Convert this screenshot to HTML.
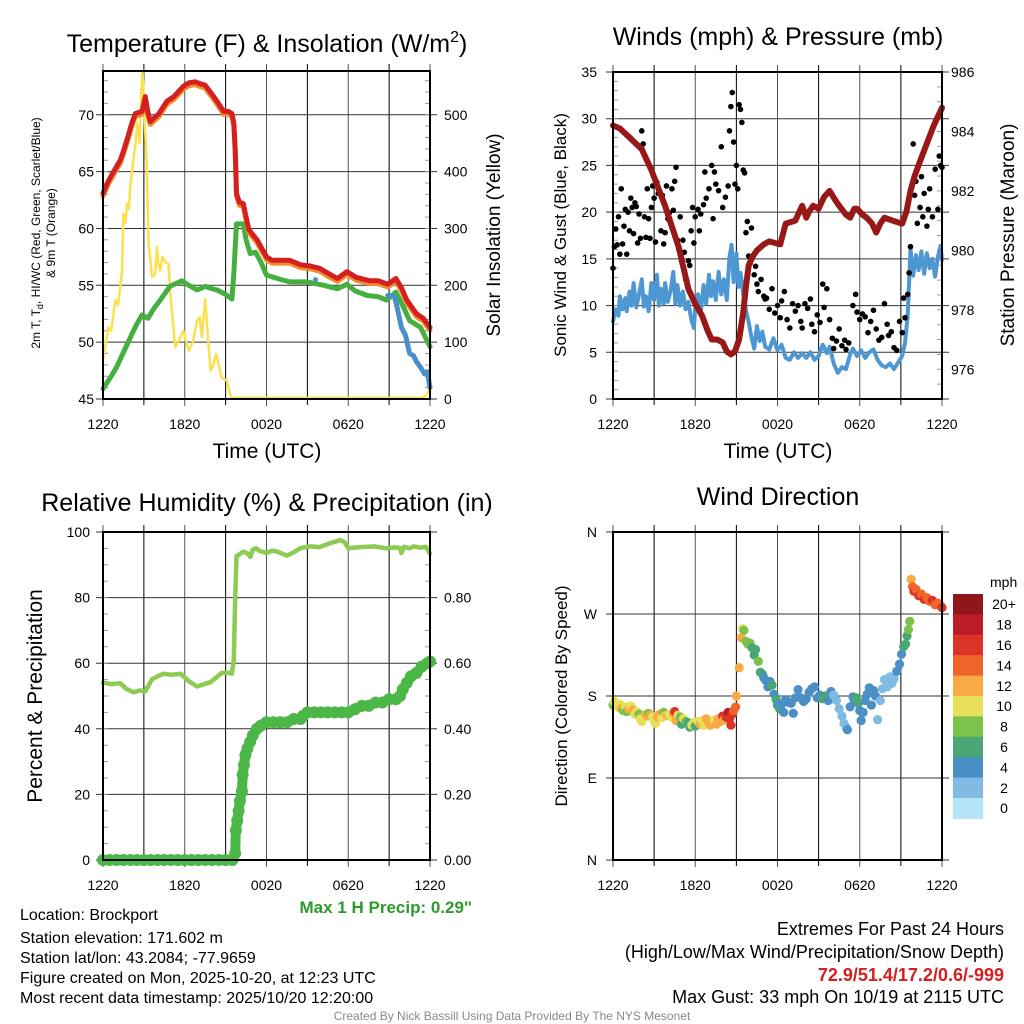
<!DOCTYPE html>
<html><head><meta charset="utf-8">
<style>
html,body{margin:0;padding:0;background:#fff;}
svg{display:block;font-family:"Liberation Sans",Arial,sans-serif;}
</style></head>
<body>
<svg id="chart" width="1024" height="1024" viewBox="0 0 1024 1024" xmlns="http://www.w3.org/2000/svg">
<rect width="1024" height="1024" fill="#fff"/>
<g id="layer"></g>
<!-- titles -->
<text x="267" y="52" font-size="25" text-anchor="middle">Temperature (F) &amp; Insolation (W/m<tspan font-size="16" dy="-10">2</tspan><tspan dy="10">)</tspan></text>
<text x="778" y="45" font-size="25" text-anchor="middle">Winds (mph) &amp; Pressure (mb)</text>
<text x="267" y="511" font-size="25" text-anchor="middle">Relative Humidity (%) &amp; Precipitation (in)</text>
<text x="778" y="505" font-size="25" text-anchor="middle">Wind Direction</text>
<!-- x axis titles -->
<text x="267" y="458" font-size="21" text-anchor="middle">Time (UTC)</text>
<text x="778" y="458" font-size="21" text-anchor="middle">Time (UTC)</text>
<!-- y axis titles -->
<text transform="translate(40,233) rotate(-90)" font-size="12" text-anchor="middle">2m T, T<tspan font-size="9" dy="3">d</tspan><tspan dy="-3">, HI/WC (Red, Green, Scarlet/Blue)</tspan></text>
<text transform="translate(55,233) rotate(-90)" font-size="12" text-anchor="middle">&amp; 9m T (Orange)</text>
<text transform="translate(500,235) rotate(-90)" font-size="19" text-anchor="middle">Solar Insolation (Yellow)</text>
<text transform="translate(566,235) rotate(-90)" font-size="17" text-anchor="middle">Sonic Wind &amp; Gust (Blue, Black)</text>
<text transform="translate(1014,235) rotate(-90)" font-size="19" text-anchor="middle">Station Pressure (Maroon)</text>
<text transform="translate(42,696) rotate(-90)" font-size="21" text-anchor="middle">Percent &amp; Precipitation</text>
<text transform="translate(567,696) rotate(-90)" font-size="17" text-anchor="middle">Direction (Colored By Speed)</text>
<!-- bottom text -->
<text x="472" y="913" font-size="17" font-weight="bold" fill="#2e9a2e" text-anchor="end">Max 1 H Precip: 0.29"</text>
<g font-size="16">
<text x="20" y="920">Location: Brockport</text>
<text x="20" y="943">Station elevation: 171.602 m</text>
<text x="20" y="963">Station lat/lon: 43.2084; -77.9659</text>
<text x="20" y="983">Figure created on Mon, 2025-10-20, at 12:23 UTC</text>
<text x="20" y="1003">Most recent data timestamp: 2025/10/20 12:20:00</text>
</g>
<g font-size="18" text-anchor="end">
<text x="1004" y="935">Extremes For Past 24 Hours</text>
<text x="1004" y="958">(High/Low/Max Wind/Precipitation/Snow Depth)</text>
<text x="1004" y="981" fill="#d02020" font-weight="bold">72.9/51.4/17.2/0.6/-999</text>
<text x="1004" y="1003">Max Gust: 33 mph On 10/19 at 2115 UTC</text>
</g>
<text x="512" y="1020" font-size="12" fill="#888" text-anchor="middle">Created By Nick Bassill Using Data Provided By The NYS Mesonet</text>
</svg>
<script>
// ---------- DATA ----------
const xTickLabels = ["1220","1820","0020","0620","1220"];
const tempTicks = [45,50,55,60,65,70];
const solarTicks = [0,100,200,300,400,500];
const windTicks = [0,5,10,15,20,25,30,35];
const presTicks = [976,978,980,982,984,986];
const rhTicks = [0,20,40,60,80,100];
const precipTicks = ["0.00","0.20","0.40","0.60","0.80"];
const dirLabels = ["N","E","S","W","N"];
const speedBins = ["0","2","4","6","8","10","12","14","16","18","20+"];
const speedColors = ["#b5e3f7","#7fbbe3","#4a90c6","#48a775","#7cc14a","#e6e158","#f7aa45","#f0652a","#dd3428","#bb1c25","#8f171b"];

const tempRed = [[0,63.1],[0.4,64.2],[0.78,65],[1.27,66],[1.5,66.8],[1.76,67.8],[2.1,69.2],[2.37,70.1],[2.86,70.3],[3.1,71.6],[3.3,70.2],[3.47,69.4],[4.1,70.1],[4.7,71.2],[5.2,71.6],[5.9,72.5],[6.3,72.8],[6.77,72.9],[7.2,72.7],[7.5,72.6],[8.0,71.8],[8.36,71.2],[8.85,70.3],[9.2,70.3],[9.46,70.1],[9.6,69.3],[9.7,67],[9.8,63.1],[10.0,62.3],[10.3,62.2],[10.5,61],[10.7,59.9],[11.3,59],[12.0,57.5],[12.4,57.2],[12.75,57.2],[13.7,57.2],[14.5,56.8],[15.2,56.7],[15.9,56.5],[16.6,56],[17.2,55.6],[17.9,56.2],[18.6,55.7],[19.6,55.4],[20.2,55.4],[20.9,55.1],[21.5,55.6],[21.9,54.8],[22.3,53.7],[23.0,52.5],[23.5,52.1],[24,51.3]];
const tempOrange = tempRed.map(p=>[p[0],p[1]-0.25]);
const dewGreen = [[0,45.9],[0.5,46.8],[1,47.8],[1.5,49.1],[2,50.4],[2.4,51.4],[2.86,52.4],[3.3,52.1],[3.7,52.9],[4.2,53.7],[4.9,54.9],[5.8,55.4],[6.3,55],[6.9,54.6],[7.5,54.9],[8.0,54.7],[8.36,54.6],[9.0,54.2],[9.46,53.8],[9.6,56],[9.8,60.4],[10.3,60.4],[10.5,59],[10.8,57.8],[11.2,57.9],[11.6,57],[12,55.9],[12.8,55.6],[13.7,55.3],[15,55.3],[16.2,55],[17.2,54.7],[17.9,55.1],[18.5,54.5],[19.4,54.1],[20.2,54],[20.8,53.7],[21.5,54.4],[22.0,53.2],[22.5,51.9],[23.3,51.3],[24,49.6]];
const hiwcBlue = [[20.9,54.1],[21.4,54],[21.6,53],[21.9,51.3],[22.2,50.6],[22.5,49],[22.8,48.8],[23.0,48.3],[23.3,47.8],[23.6,47.2],[23.8,47.4],[24,46]];
const solar = [[0,68],[0.4,126],[0.6,120],[0.9,174],[1.1,165],[1.4,226],[1.5,326],[1.65,310],[1.76,344],[1.9,335],[2.0,374],[2.25,426],[2.4,450],[2.5,485],[2.7,450],[2.8,538],[2.9,576],[3.0,526],[3.1,470],[3.2,420],[3.35,274],[3.6,215],[3.84,220],[3.96,268],[4.05,240],[4.2,226],[4.35,250],[4.45,247],[4.6,240],[4.8,238],[5.0,170],[5.3,91],[5.5,100],[5.9,120],[6.1,100],[6.3,85],[6.6,100],[6.9,138],[7.1,144],[7.25,109],[7.5,176],[7.7,110],[7.9,50],[8.1,60],[8.3,79],[8.5,60],[8.7,38],[9.1,32],[9.3,10],[9.46,2],[23.3,2],[23.7,6],[24,18]];

const pressure = [[0,984.2],[0.5,984.1],[1.2,983.8],[2.1,983.4],[2.8,982.7],[3.3,982.1],[3.8,981.5],[4.3,980.8],[4.8,980.1],[5.5,978.7],[6.0,978.2],[6.5,977.8],[6.9,977.3],[7.2,977],[7.6,977],[8.0,976.9],[8.3,976.6],[8.6,976.5],[8.9,976.6],[9.2,977],[9.5,977.9],[9.7,978.8],[9.9,979.5],[10.2,979.8],[10.5,980],[11.0,980.2],[11.4,980.3],[12.2,980.2],[12.6,980.9],[13.3,981],[13.8,981.5],[14.1,981.1],[14.3,981.3],[14.6,981.5],[15.0,981.4],[15.4,981.8],[15.8,982],[16.2,981.7],[16.5,981.5],[17.0,981.2],[17.3,981.1],[17.6,981.4],[17.8,981.4],[18.2,981.2],[18.5,981.1],[18.9,980.9],[19.2,980.6],[19.5,980.9],[19.8,981.1],[20.4,981],[21.1,980.9],[21.4,981.3],[21.7,982],[22.0,982.5],[22.4,983],[22.9,983.6],[23.4,984.2],[24,984.8]];
const sonic = [[0,8.3],[0.2,9.6],[0.4,8.9],[0.5,11],[0.7,9.6],[0.9,10.8],[1.0,9.4],[1.2,11.5],[1.35,10],[1.5,12.4],[1.7,9.8],[1.9,11.2],[2.1,12.8],[2.25,9.9],[2.4,11],[2.6,9.4],[2.8,12.4],[3.0,10.6],[3.2,13.3],[3.35,10],[3.5,11.8],[3.7,10.2],[3.8,12.4],[4.0,10.4],[4.2,11.6],[4.4,13.6],[4.55,10.2],[4.7,12.2],[4.9,10],[5.1,11.5],[5.3,9.6],[5.5,10.4],[5.7,8.6],[5.9,7.6],[6.05,10.8],[6.2,11.2],[6.4,9.2],[6.6,12.2],[6.8,10.2],[7.0,13.3],[7.15,11],[7.3,12.6],[7.5,10.6],[7.7,13.6],[7.9,11.2],[8.1,12.8],[8.3,10.6],[8.5,15.2],[8.65,16.5],[8.8,12.5],[9.0,15.6],[9.15,12],[9.3,13.5],[9.5,11.2],[9.7,9.5],[9.9,8.2],[10.1,6.6],[10.3,5.4],[10.5,7.8],[10.7,6.2],[10.9,7.2],[11.1,5.6],[11.4,5.3],[11.7,6.5],[12.0,5.2],[12.3,5.8],[12.6,4.4],[12.9,4.2],[13.2,5],[13.5,4.4],[13.8,4.9],[14.1,4.4],[14.4,5],[14.7,4.2],[15.0,4.6],[15.3,5.8],[15.6,4.9],[15.8,5.6],[16.1,3.8],[16.4,2.8],[16.7,3.4],[17.0,3.2],[17.3,4.8],[17.5,5.4],[17.8,4.6],[18.1,5.2],[18.4,4.4],[18.7,5],[19.0,5.3],[19.3,4.2],[19.6,3.6],[19.9,3.4],[20.2,3.8],[20.5,3.2],[20.8,3.9],[21.1,4.6],[21.3,6],[21.5,9],[21.7,16],[21.9,13.2],[22.1,15.4],[22.3,13.8],[22.5,15.8],[22.7,13.4],[22.9,15.6],[23.1,14],[23.3,15],[23.5,13.1],[23.7,15.2],[23.9,16.4],[24,14.9]];
const gust = [[0,14],[0.1,16.3],[0.2,18.2],[0.3,16.5],[0.4,19.5],[0.5,15.5],[0.6,22.5],[0.7,16.6],[0.8,18.5],[0.9,20.3],[1.0,15.5],[1.1,20],[1.2,18],[1.3,21.5],[1.4,20.5],[1.5,17.7],[1.6,21],[1.7,20.6],[1.8,16.7],[1.9,19.8],[2.0,17.2],[2.1,28.7],[2.2,27.3],[2.3,19.5],[2.4,17.3],[2.5,22.5],[2.6,19.3],[2.7,17.2],[2.8,20.5],[2.9,22.8],[3.0,21.5],[3.1,16.8],[3.2,23.2],[3.3,22],[3.5,18],[3.6,21.8],[3.7,16.6],[3.8,17.8],[3.9,22.8],[4.0,19.3],[4.1,19.9],[4.3,22.5],[4.4,20.2],[4.5,23.3],[4.6,24.8],[4.7,17],[4.8,16],[4.9,19.5],[5.0,14.8],[5.1,17],[5.2,15.7],[5.3,12.8],[5.5,14.8],[5.6,14.3],[5.7,18],[5.8,20.5],[5.9,16.7],[6.0,19.5],[6.2,20.3],[6.3,18],[6.4,19.8],[6.6,20.8],[6.7,24.3],[6.8,21.5],[7.0,22.5],[7.2,25],[7.3,19.3],[7.4,24.3],[7.5,23],[7.7,22.3],[7.9,27],[8.0,20.5],[8.2,21.6],[8.4,22.8],[8.5,28.7],[8.6,31.3],[8.7,32.8],[8.8,27.5],[8.9,23],[9.0,25],[9.1,22.5],[9.2,31.5],[9.3,31],[9.4,29.6],[9.5,24.5],[9.6,24.2],[9.7,17.8],[9.8,19],[9.9,15.3],[10.0,14.5],[10.1,18.3],[10.3,13.3],[10.4,14.2],[10.5,12.3],[10.6,11.5],[10.8,12.8],[11.0,11],[11.1,10.7],[11.2,10.8],[11.4,9.6],[11.6,11.8],[11.8,9.2],[12.0,10],[12.2,8.7],[12.3,10.5],[12.5,11.5],[12.7,8.5],[12.9,7.6],[13.1,10.2],[13.3,9.4],[13.5,10],[13.7,8.3],[13.8,7.6],[14.0,10.2],[14.2,9.7],[14.4,10.7],[14.5,8],[14.7,7.2],[14.9,9],[15.1,8.2],[15.3,12.3],[15.4,9.8],[15.6,11.8],[15.8,8.5],[16.0,6.5],[16.1,5.4],[16.3,6.2],[16.5,7.5],[16.7,5.7],[16.9,6.3],[17.0,5.3],[17.2,6],[17.5,10],[17.7,11.2],[17.8,9.3],[18.0,8.5],[18.2,9.1],[18.4,8.8],[18.6,7.1],[18.8,8.3],[19.0,9.5],[19.2,7.5],[19.4,6.3],[19.6,6.6],[19.8,10.2],[20.0,8],[20.1,6.8],[20.3,7.2],[20.5,5.5],[20.7,5.2],[20.9,8.3],[21.1,7.1],[21.2,10.8],[21.3,8.7],[21.5,11.2],[21.6,13.5],[21.7,16.3],[21.8,22.7],[21.9,27.3],[22.0,21.8],[22.1,23.3],[22.2,18.8],[22.4,20.5],[22.5,23.8],[22.6,19.5],[22.7,22],[22.9,18.5],[23.0,20.3],[23.1,22.5],[23.3,19.5],[23.5,24.6],[23.7,20.3],[23.8,26],[23.9,25],[24.0,24.8]];

const rh = [[0,54.1],[0.6,53.6],[1.27,53.9],[1.7,52.2],[2.25,51.1],[2.7,51.7],[3.1,51.4],[3.6,55.1],[4.0,56],[4.45,56.8],[5.0,56.5],[5.7,56.8],[6.3,54.5],[6.9,52.9],[7.4,53.6],[7.9,54.2],[8.3,55.6],[8.7,57],[9.2,57.1],[9.45,56.8],[9.6,61],[9.7,80],[9.8,92.6],[10.3,94],[10.6,93.5],[10.8,92.4],[11.0,94.6],[11.2,95.1],[11.5,94.2],[12,93.6],[12.4,94.3],[12.75,94.1],[13.5,92.8],[14.0,93.8],[14.5,95.1],[15.2,95.6],[15.9,95.4],[16.6,96.5],[17.4,97.5],[17.7,97],[18,95.1],[18.9,95.4],[19.9,95.6],[20.8,95],[21.5,95.3],[21.8,95.1],[21.9,93.6],[22.1,95.5],[22.5,95],[22.8,95.6],[23.3,95.2],[23.7,95.5],[24,93.4]];
const precip = [[0,0],[0.5,0],[1,0],[1.5,0],[2,0],[2.5,0],[3,0],[3.5,0],[4,0],[4.5,0],[5,0],[5.5,0],[6,0],[6.5,0],[7,0],[7.5,0],[8,0],[8.5,0],[9,0],[9.5,0],[9.7,0.02],[9.75,0.09],[9.85,0.12],[9.95,0.15],[10.05,0.18],[10.2,0.21],[10.25,0.26],[10.35,0.29],[10.45,0.32],[10.6,0.34],[10.8,0.36],[11.0,0.38],[11.3,0.40],[11.6,0.41],[12.0,0.42],[12.5,0.42],[13.0,0.42],[13.5,0.42],[14.0,0.43],[14.5,0.43],[14.7,0.44],[15.0,0.45],[15.5,0.45],[16,0.45],[16.5,0.45],[17,0.45],[17.5,0.45],[18,0.45],[18.5,0.46],[19,0.47],[19.5,0.47],[20,0.48],[20.5,0.48],[21,0.49],[21.5,0.49],[21.8,0.5],[22.0,0.52],[22.3,0.54],[22.6,0.56],[23.0,0.57],[23.4,0.59],[23.8,0.60],[24,0.605]];

const wdHour = [0,0.1,0.2,0.35,0.5,0.6,0.75,0.9,1.0,1.15,1.3,1.45,1.6,1.75,1.9,2.0,2.1,2.25,2.4,2.5,2.6,2.75,2.9,3.0,3.1,3.25,3.4,3.55,3.7,3.8,3.95,4.1,4.25,4.4,4.5,4.6,4.75,4.9,5.0,5.15,5.3,5.45,5.6,5.75,5.9,6.0,6.2,6.35,6.5,6.65,6.8,6.95,7.1,7.25,7.4,7.55,7.7,7.85,8.0,8.1,8.25,8.4,8.5,8.6,8.7,8.8,8.95,9.0,9.2,9.35,9.45,9.55,9.7,9.85,10.0,10.15,10.3,10.4,10.6,10.75,10.9,11.0,11.15,11.3,11.45,11.6,11.75,11.9,12.0,12.15,12.3,12.45,12.6,12.8,13.0,13.15,13.3,13.5,13.7,13.9,14.1,14.3,14.5,14.7,14.9,15.1,15.3,15.5,15.7,15.9,16.1,16.3,16.5,16.7,16.85,17.0,17.1,17.3,17.5,17.6,17.75,17.9,18.0,18.1,18.25,18.4,18.55,18.7,18.85,19.0,19.15,19.3,19.5,19.65,19.8,20.0,20.2,20.35,20.5,20.7,20.9,21.05,21.2,21.35,21.45,21.55,21.65,21.75,21.85,21.95,22.1,22.3,22.5,22.7,22.9,23.1,23.3,23.5,23.7,23.9,24];
const wdDir = [170,174,172,168,171,166,164,168,163,166,169,165,160,163,160,155,152,157,160,158,161,159,157,153,150,157,160,156,162,158,159,160,157,161,163,153,159,157,149,155,152,151,146,148,151,147,152,149,153,148,155,152,148,150,154,149,155,152,158,154,157,162,155,148,160,164,168,180,211,244,254,252,240,237,238,233,225,231,218,206,204,200,197,190,196,192,182,176,170,166,171,162,176,173,172,161,178,187,178,174,177,184,188,190,178,181,177,180,175,185,181,175,166,158,150,146,143,168,179,173,178,172,164,153,162,175,182,189,170,186,180,154,175,188,198,190,201,194,199,207,215,226,234,237,246,253,262,308,300,295,297,290,292,286,288,284,285,280,282,279,277];
const wdSpeed = [8,10,10,11,10,12,9,10,8,12,11,12,10,10,9,10,10,11,12,12,8,12,10,10,10,12,12,10,8,10,12,11,10,12,16,12,10,8,7,10,8,7,6,10,10,7,10,12,11,10,13,12,12,12,10,12,13,12,16,13,16,18,17,17,17,15,14,13,13,12,10,8,8,9,8,7,6,7,8,7,6,5,5,5,5,7,5,6,5,7,5,5,5,4,5,5,5,5,5,5,5,5,5,5,5,5,6,7,5,4,3,3,3,3,3,3,4,4,5,5,7,6,5,5,5,5,4,4,5,4,4,3,3,3,3,3,3,3,3,4,4,5,6,6,7,8,9,12,15,17,14,16,15,16,14,15,16,14,15,14,16,16];

// ---------- DRAWING ----------
const NS="http://www.w3.org/2000/svg";
const layer=document.getElementById('layer');
function el(tag,attrs,parent){const e=document.createElementNS(NS,tag);for(const k in attrs)e.setAttribute(k,attrs[k]);(parent||layer).appendChild(e);return e;}
function txt(s,attrs,parent){const e=el('text',attrs,parent);e.textContent=s;return e;}

const P1={x0:103,x1:430,y0:71,y1:399}, P2={x0:613,x1:942,y0:72,y1:399}, P3={x0:103,x1:430,y0:532,y1:860}, P4={x0:613,x1:942,y0:532,y1:860};
function xs(p){return h=>p.x0+h/24*(p.x1-p.x0);}
function ys(p,lo,hi){return v=>p.y1-(v-lo)/(hi-lo)*(p.y1-p.y0);}

function grid(p,yvals,ysc,g){
  for(let h=0;h<=24;h+=3){const x=xs(p)(h);
    const l=el('line',{x1:x,x2:x,y1:p.y0-7,y2:p.y1+(h%6==0?7:6),stroke:h%6==0?'#555':'#000','stroke-width':1},g);
    
    }
  yvals.forEach(v=>{const y=ysc(v);
    const l=el('line',{x1:p.x0-7,x2:p.x1+7,y1:y,y2:y,stroke:'#333','stroke-width':1},g);
    
    });
}
function frame(p,g){const r=el('rect',{x:p.x0,y:p.y0,width:p.x1-p.x0,height:p.y1-p.y0,fill:'none',stroke:'#000','stroke-width':2},g);
  
  }
function minor(p,side,ysc,lo,hi,step,g){for(let v=lo;v<=hi+1e-9;v+=step){const y=ysc(v);if(y<p.y0-0.5||y>p.y1+0.5)continue;
  const x=side=='L'?p.x0:p.x1; const d=side=='L'?5:-5;
  el('line',{x1:x,x2:x+d,y1:y,y2:y,stroke:'#999','stroke-width':1},g);}}
function xlabels(p,yy,g){xTickLabels.forEach((s,i)=>{const t=txt(s,{x:xs(p)(i*6),y:yy,'font-size':14,'text-anchor':'middle'},g);
  
  });}
function ylabels(vals,ysc,x,anchor,g,fmt){vals.forEach(v=>{const t=txt(fmt?fmt(v):String(v),{x:x,y:ysc(+v)+5,'font-size':14,'text-anchor':anchor},g);
  
  });}
function line(p,data,ysc,color,w,g,name){const X=xs(p);
  const pl=el('polyline',{points:data.map(d=>X(d[0]).toFixed(1)+','+ysc(d[1]).toFixed(1)).join(' '),fill:'none',stroke:color,'stroke-width':w,'stroke-linejoin':'round','stroke-linecap':'round'},g);
  
  return pl;}

// Panel 1
{const g=el('g',{});
 const yT=ys(P1,45,73.85), yS=v=>yT(45+v/100*5);
 grid(P1,tempTicks,yT,g);
 minor(P1,'L',yT,45,73,1,g); minor(P1,'R',yS,0,560,20,g);
 line(P1,solar,yS,'#fbe04f',2.5,g,'solar-insolation-line');
 line(P1,dewGreen,yT,'#45b03f',5,g,'dewpoint-line');
 line(P1,tempOrange,yT,'#f28c2c',5,g,'temperature-9m-line');
 line(P1,tempRed,yT,'#d42020',5,g,'temperature-2m-line');
 line(P1,hiwcBlue,yT,'#4a8fc9',5,g,'heat-index-wind-chill-line');
 const bd=el('circle',{cx:xs(P1)(15.6),cy:yT(55.5),r:2.5,fill:'#4a8fc9'},g);
 
 
 frame(P1,g);
 xlabels(P1,429,g); ylabels(tempTicks,yT,94,'end',g); ylabels(solarTicks,yS,444,'start',g);}

// Panel 2
{const g=el('g',{});
 const yW=ys(P2,0,35), yP=ys(P2,975,986);
 grid(P2,windTicks,yW,g);
 minor(P2,'L',yW,0,35,1,g); minor(P2,'R',yP,975,986,0.5,g);
 line(P2,sonic,yW,'#4d97d3',4,g,'sonic-wind-line');
 const X=xs(P2);
 gust.forEach(d=>{const c=el('circle',{cx:X(d[0]),cy:yW(d[1]),r:2.8,fill:'#000'},g);
   
   });
 line(P2,pressure,yP,'#981818',6,g,'pressure-line');
 frame(P2,g);
 xlabels(P2,429,g); ylabels(windTicks,yW,597,'end',g); ylabels(presTicks,yP,951,'start',g);}

// Panel 3
{const g=el('g',{});
 const yR=ys(P3,0,100), yQ=v=>yR(v*100);
 grid(P3,rhTicks,yR,g);
 minor(P3,'L',yR,0,100,5,g); minor(P3,'R',yQ,0,1,0.05,g);
 line(P3,rh,yR,'#8dcb52',4.5,g,'relative-humidity-line');
 const X=xs(P3);
 line(P3,precip,yQ,'#4bb746',10,g,'precipitation-line');
 precip.forEach(d=>{const c=el('circle',{cx:X(d[0]),cy:yQ(d[1]),r:6,fill:'#4bb746'},g);
   
   });
 frame(P3,g);
 xlabels(P3,890,g); ylabels(rhTicks,yR,90,'end',g); ylabels(precipTicks,yQ,444,'start',g);}

// Panel 4
{const g=el('g',{});
 const yD=ys(P4,0,360);
 grid(P4,[0,90,180,270,360],yD,g);
 const X=xs(P4);
 wdHour.forEach((h,i)=>{const idx=Math.min(10,Math.floor(wdSpeed[i]/2));
   const c=el('circle',{cx:X(h),cy:yD(wdDir[i]),r:4.6,fill:speedColors[idx]},g);
   
   });
 frame(P4,g);
 xlabels(P4,890,g);
 dirLabels.forEach((s,i)=>{const t=txt(s,{x:597,y:yD(i*90)+5,'font-size':14,'text-anchor':'end'},g);
   
   });
 const cb=el('g',{},g);
 const t0=txt('mph',{x:990,y:587,'font-size':14,'text-anchor':'start'},cb);
 
 
 const bh=20.4;
 for(let k=0;k<11;k++){const idx=10-k;const y=594+k*bh;
   const r=el('rect',{x:953,y:y,width:30,height:bh+0.5,fill:speedColors[idx]},cb);
   
   
   const t=txt(speedBins[idx],{x:1004,y:y+bh/2+5,'font-size':14,'text-anchor':'middle'},cb);
   
   }
}
</script>
</body></html>
